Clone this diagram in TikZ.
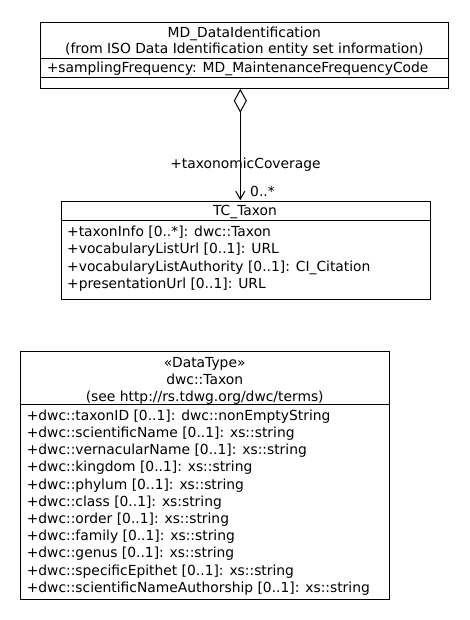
\documentclass[tikz,border=0pt]{standalone}
\usepackage{fontspec}
\setmainfont{DejaVu Sans}
\usetikzlibrary{arrows.meta}
\begin{document}
\begin{tikzpicture}[x=1bp,y=-1bp,
  classbox/.style={draw, line width=1bp, inner sep=0pt, anchor=north west},
  sepline/.style={line width=1bp},
  txt/.style={inner sep=0pt, font=\fontsize{13.9}{17}\selectfont},
  ctr/.style={txt, anchor=base},
  lft/.style={txt, anchor=base west},
  assoc/.style={line width=1bp, {Diamond[open,length=24bp,width=13bp]}-{Straight Barb[length=8bp,width=9bp,line width=1bp]}}
]
\useasboundingbox (0,0) rectangle (470,620);
% MD_DataIdentification
\node[classbox, minimum width=408bp, minimum height=66.6bp] (md) at (40.3,21.7) {};
\draw[sepline] (md.west |- {(0,58.3)}) -- (md.east |- {(0,58.3)});
\draw[sepline] (md.west |- {(0,77.8)}) -- (md.east |- {(0,77.8)});
\node[ctr] (mdt1) at (244.3,37.2) {MD\_DataIdentification};
\node[ctr] (mdt2) at (244.3,54) {(from ISO Data Identification entity set information)};
\node[lft] (mda1) at (46.6,72.3) {+samplingFrequency: MD\_MaintenanceFrequencyCode};
% TC_Taxon
\node[classbox, minimum width=369bp, minimum height=98.6bp] (tc) at (60.5,200.7) {};
\draw[sepline] (tc.west |- {(0,220)}) -- (tc.east |- {(0,220)});
\node[ctr] (tct) at (245,215.3) {TC\_Taxon};
\node[lft] (tca1) at (67,236.2) {+taxonInfo [0..*]: dwc::Taxon};
\node[lft] (tca2) at (67,253.7) {+vocabularyListUrl [0..1]: URL};
\node[lft] (tca3) at (67,271.2) {+vocabularyListAuthority [0..1]: CI\_Citation};
\node[lft] (tca4) at (67,288.7) {+presentationUrl [0..1]: URL};
% association
\coordinate (agg) at (240.3,88.8);
\coordinate (tgt) at (240.3,200.2);
\draw[assoc] (agg) -- (tgt);
\node[ctr] (role) at (245.5,168.5) {+taxonomicCoverage};
\node[lft] (mult) at (250,196.5) {0..*};
% dwc::Taxon
\node[classbox, minimum width=368.7bp, minimum height=248.3bp] (dwc) at (20.3,350.7) {};
\draw[sepline] (dwc.west |- {(0,404)}) -- (dwc.east |- {(0,404)});
\node[ctr] (dwt1) at (204.7,367.2) {«DataType»};
\node[ctr] (dwt2) at (204.7,384.4) {dwc::Taxon};
\node[ctr] (dwt3) at (204.7,401.4) {(see http://rs.tdwg.org/dwc/terms)};
\node[lft] (dwa1) at (26.6,420.2) {+dwc::taxonID [0..1]: dwc::nonEmptyString};
\node[lft] (dwa2) at (26.6,437.4) {+dwc::scientificName [0..1]: xs::string};
\node[lft] (dwa3) at (26.6,454.6) {+dwc::vernacularName [0..1]: xs::string};
\node[lft] (dwa4) at (26.6,471.8) {+dwc::kingdom [0..1]: xs::string};
\node[lft] (dwa5) at (26.6,489) {+dwc::phylum [0..1]: xs::string};
\node[lft] (dwa6) at (26.6,506.2) {+dwc::class [0..1]: xs:string};
\node[lft] (dwa7) at (26.6,523.4) {+dwc::order [0..1]: xs::string};
\node[lft] (dwa8) at (26.6,540.6) {+dwc::family [0..1]: xs::string};
\node[lft] (dwa9) at (26.6,557.8) {+dwc::genus [0..1]: xs::string};
\node[lft] (dwa10) at (26.6,575) {+dwc::specificEpithet [0..1]: xs::string};
\node[lft] (dwa11) at (26.6,592.2) {+dwc::scientificNameAuthorship [0..1]: xs::string};
\end{tikzpicture}
\end{document}
